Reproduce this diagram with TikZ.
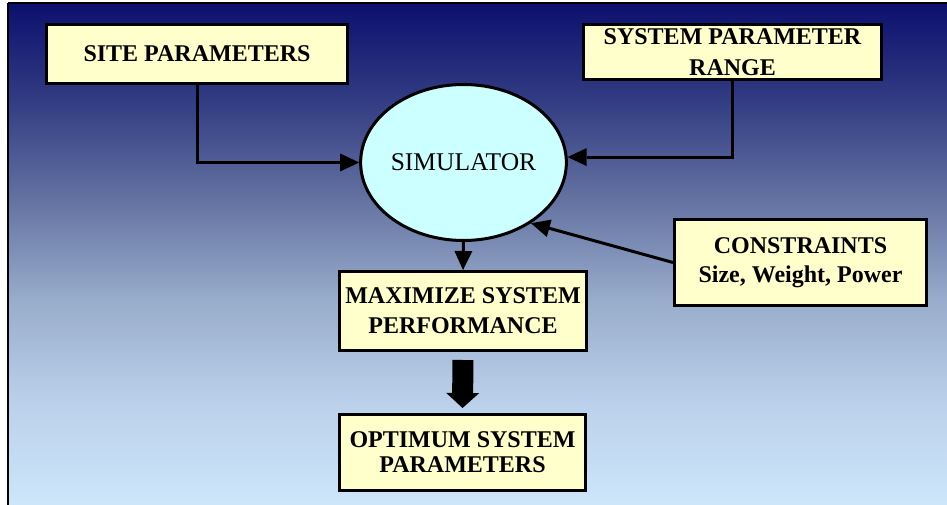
\documentclass[tikz,border=0pt]{standalone}
\usepackage{fontspec}
\setmainfont{Liberation Serif}
\usetikzlibrary{shapes.geometric,arrows.meta}
\definecolor{boxyellow}{HTML}{FFFFCC}
\definecolor{simcyan}{HTML}{CCFFFF}
\definecolor{bgTop}{RGB}{12,16,110}
\definecolor{bgA}{RGB}{50,60,130}
\definecolor{bgB}{RGB}{100,115,162}
\definecolor{bgC}{RGB}{152,172,203}
\definecolor{bgD}{RGB}{186,208,234}
\definecolor{bgE}{RGB}{205,230,250}
\pgfdeclareverticalshading{bgshade}{100bp}{color(0bp)=(bgE); color(25bp)=(bgE); color(35.5bp)=(bgD); color(45.5bp)=(bgC); color(55.4bp)=(bgB); color(65.4bp)=(bgA); color(75bp)=(bgTop); color(100bp)=(bgTop)}
\begin{document}
\begin{tikzpicture}[x=1pt,y=-1pt,
  box/.style={draw=black, fill=boxyellow, line width=3pt, rectangle, inner sep=0pt, align=center,
    font=\fontsize{24}{30}\selectfont\bfseries},
  simnode/.style={draw=black, fill=simcyan, line width=3pt, ellipse, inner sep=0pt,
    font=\fontsize{25.5}{30}\selectfont},
  arr/.style={line width=3pt, -{Triangle[length=19pt,width=18pt,line width=0pt]}},
  bigarr/.style={line width=21pt, -{Triangle[length=15pt,width=33pt,line width=0pt]}, shorten <=8pt, shorten >=5pt}
]
\useasboundingbox (0,0) rectangle (947,505);
\fill[white] (0,0) rectangle (947,505);
\shade[shading=bgshade] (9,4) rectangle (947,505);
\draw[line width=2pt] (8,3) -- (8,505);
\draw[line width=1.5pt] (8,3) -- (947,3);

\node[box, minimum width=301pt, minimum height=59pt] (site) at (197,54) {SITE PARAMETERS};
\node[box, minimum width=298pt, minimum height=55pt, font=\fontsize{24}{31}\selectfont\bfseries] (range) at (732.5,52) {SYSTEM PARAMETER\\RANGE};
\node[simnode, minimum width=186pt, minimum height=156pt] (sim) at (463.5,162.5) {SIMULATOR};
\node[box, minimum width=247pt, minimum height=79pt] (max) at (463,311) {MAXIMIZE SYSTEM\\PERFORMANCE};
\node[box, minimum width=246pt, minimum height=76pt, font=\fontsize{24}{25}\selectfont\bfseries] (opt) at (462.5,452.5) {OPTIMUM SYSTEM\\PARAMETERS};
\node[box, minimum width=252pt, minimum height=86pt, font=\fontsize{24}{28.5}\selectfont\bfseries] (con) at (800.5,262.5) {CONSTRAINTS\\Size, Weight, Power};

\draw[arr] (site.south) |- (sim.west);
\draw[arr] (range.south) |- (sim.3.3);
\draw[arr] (sim.south) -- (max.north);
\draw[arr] (con.west) -- (sim.-42);
\draw[bigarr] (max.south) -- (opt.north);
\end{tikzpicture}
\end{document}
